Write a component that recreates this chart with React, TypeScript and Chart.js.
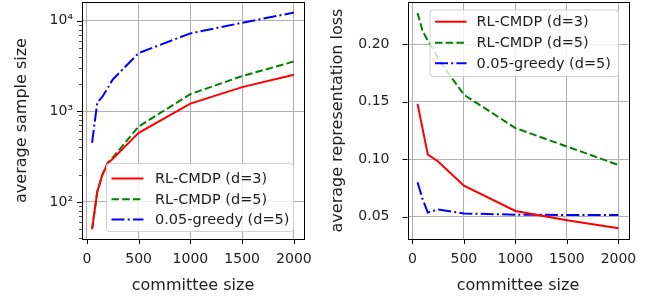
import React, { useEffect, useRef } from "react";
import { Chart, registerables } from "chart.js";

Chart.register(...registerables);

// ---------------- data ----------------
const committeeSizes = [50, 100, 150, 200, 250, 500, 1000, 1500, 2000];
const sampleRL3 = [50, 130, 200, 265, 300, 580, 1216, 1850, 2530];
const sampleRL5 = [50, 130, 200, 270, 310, 680, 1550, 2450, 3550];
const sampleGreedy = [450, 1250, 1450, 1800, 2250, 4400, 7260, 9500, 12300];
const lossRL3 = [0.148, 0.126, 0.104, 0.101, 0.098, 0.077, 0.055, 0.047, 0.04];
const lossRL5 = [0.227, 0.211, 0.203, 0.196, 0.187, 0.156, 0.127, 0.111, 0.095];
const lossGreedy = [0.08, 0.065, 0.0537, 0.055, 0.0563, 0.0529, 0.0518, 0.0516, 0.0515];
const xTicks = [0, 500, 1000, 1500, 2000];
const sampleTicks = [100, 1000, 10000];
const sampleTickLabels = ["10\u00B2", "10\u00B3", "10\u2074"];
const lossTicks = [0.05, 0.1, 0.15, 0.2];
const lossTickLabels = ["0.05", "0.10", "0.15", "0.20"];
const seriesLabels = ["RL-CMDP (d=3)", "RL-CMDP (d=5)", "0.05-greedy (d=5)"];

const FONT = "'DejaVu Sans', sans-serif";
const TEXT = "#1e1e1e";
const TICK_SIZE = 14;
const TITLE_SIZE = 16;
const LEGEND_SIZE = 14.5;
const COLORS = ["#ff0000", "#008000", "#0000ff"];
const DASHES: number[][] = [[], [7.5, 3.2], [13, 3.2, 2, 3.2]];

function pts(ys: number[]) {
  return committeeSizes.map((x, i) => ({ x, y: ys[i] }));
}

type Decor = {
  legend: { x: number; y: number; w: number; h: number; rows: number[]; lx0: number; lx1: number; tx: number };
  minorLog: boolean;
};

function decorPlugin(d: Decor) {
  return {
    id: "decor",
    afterDatasetsDraw(chart: any) {
      const ctx = chart.ctx as CanvasRenderingContext2D;
      const a = chart.chartArea;
      const xs = chart.scales.x;
      const ys = chart.scales.y;
      ctx.save();
      ctx.strokeStyle = "#000";
      ctx.lineWidth = 1;
      ctx.setLineDash([]);
      ctx.beginPath();
      for (const v of xTicks) {
        const px = Math.round(xs.getPixelForValue(v)) + 0.5;
        ctx.moveTo(px, a.bottom);
        ctx.lineTo(px, a.bottom + 5);
      }
      for (const t of ys.ticks) {
        const py = Math.round(ys.getPixelForValue(t.value)) + 0.5;
        ctx.moveTo(a.left - 5, py);
        ctx.lineTo(a.left, py);
      }
      ctx.stroke();
      if (d.minorLog) {
        ctx.lineWidth = 0.7;
        ctx.beginPath();
        for (let e = 1; e <= 4; e++) {
          for (let m = 2; m <= 9; m++) {
            const v = m * Math.pow(10, e);
            if (v < ys.min || v > ys.max) continue;
            const py = Math.round(ys.getPixelForValue(v)) + 0.5;
            ctx.moveTo(a.left - 3, py);
            ctx.lineTo(a.left, py);
          }
        }
        ctx.stroke();
      }
      ctx.lineWidth = 1;
      ctx.strokeStyle = "#000";
      ctx.strokeRect(Math.round(a.left) + 0.5, Math.round(a.top) + 0.5, Math.round(a.right - a.left), Math.round(a.bottom - a.top));
      // legend
      const L = d.legend;
      const r = 3;
      ctx.beginPath();
      ctx.moveTo(L.x + r, L.y);
      ctx.lineTo(L.x + L.w - r, L.y);
      ctx.quadraticCurveTo(L.x + L.w, L.y, L.x + L.w, L.y + r);
      ctx.lineTo(L.x + L.w, L.y + L.h - r);
      ctx.quadraticCurveTo(L.x + L.w, L.y + L.h, L.x + L.w - r, L.y + L.h);
      ctx.lineTo(L.x + r, L.y + L.h);
      ctx.quadraticCurveTo(L.x, L.y + L.h, L.x, L.y + L.h - r);
      ctx.lineTo(L.x, L.y + r);
      ctx.quadraticCurveTo(L.x, L.y, L.x + r, L.y);
      ctx.closePath();
      ctx.fillStyle = "rgba(255,255,255,0.8)";
      ctx.fill();
      ctx.strokeStyle = "#d0d0d0";
      ctx.lineWidth = 1;
      ctx.stroke();
      ctx.font = `${LEGEND_SIZE}px ${FONT}`;
      ctx.textBaseline = "middle";
      ctx.textAlign = "left";
      L.rows.forEach((ry, i) => {
        ctx.strokeStyle = COLORS[i];
        ctx.lineWidth = 2;
        ctx.setLineDash(DASHES[i]);
        ctx.beginPath();
        ctx.moveTo(L.lx0, ry);
        ctx.lineTo(L.lx1, ry);
        ctx.stroke();
        ctx.setLineDash([]);
        ctx.fillStyle = TEXT;
        ctx.fillText(seriesLabels[i], L.tx, ry + 0.5);
      });
      ctx.restore();
    },
  };
}

function datasets(a: number[], b: number[], c: number[]) {
  return [a, b, c].map((ys, i) => ({
    label: seriesLabels[i],
    data: pts(ys),
    borderColor: COLORS[i],
    backgroundColor: COLORS[i],
    borderWidth: 2,
    borderDash: DASHES[i],
    pointRadius: 0,
    fill: false,
    tension: 0,
  }));
}

function zeroPad(s: any) {
  s.paddingTop = 0;
  s.paddingBottom = 0;
  s.paddingLeft = 0;
  s.paddingRight = 0;
}

function xScale() {
  return {
    type: "linear",
    min: -47.5,
    max: 2097.5,
    afterBuildTicks: (s: any) => {
      s.ticks = xTicks.map((v) => ({ value: v }));
    },
    afterFit: (s: any) => {
      s.height = 59;
      zeroPad(s);
    },
    grid: { color: "#b0b0b0", lineWidth: 1, drawTicks: false },
    border: { display: false },
    ticks: {
      padding: 12,
      color: TEXT,
      font: { family: FONT, size: TICK_SIZE },
      maxRotation: 0,
      autoSkip: false,
      callback: (v: any) => String(v),
    },
    title: {
      display: true,
      text: "committee size",
      color: TEXT,
      font: { family: FONT, size: TITLE_SIZE },
      padding: { top: 0, bottom: 3 },
    },
  };
}

function ChartCanvas({ config, left, width }: { config: () => any; left: number; width: number }) {
  const ref = useRef<HTMLCanvasElement | null>(null);
  useEffect(() => {
    const chart = new Chart(ref.current as HTMLCanvasElement, config());
    return () => chart.destroy();
  }, []);
  return (
    <canvas
      ref={ref}
      width={width}
      height={298}
      style={{ position: "absolute", left, top: 0, width, height: 298 }}
    />
  );
}

function leftConfig() {
  return {
    type: "line",
    data: { datasets: datasets(sampleRL3, sampleRL5, sampleGreedy) },
    options: {
      responsive: false,
      animation: false,
      devicePixelRatio: 1,
      layout: { padding: { left: 0, right: 16, top: 2, bottom: 0 } },
      plugins: { legend: { display: false }, tooltip: { enabled: false } },
      scales: {
        x: xScale(),
        y: {
          type: "logarithmic",
          min: 39,
          max: 16100,
          afterBuildTicks: (s: any) => {
            s.ticks = sampleTicks.map((v) => ({ value: v }));
          },
          afterFit: (s: any) => {
            s.width = 82;
            zeroPad(s);
          },
          grid: { color: "#b0b0b0", lineWidth: 1, drawTicks: false },
          border: { display: false },
          ticks: {
            padding: 9,
            color: TEXT,
            font: { family: FONT, size: TICK_SIZE },
            autoSkip: false,
            callback: (v: any) => {
              const i = sampleTicks.indexOf(Number(v));
              return i >= 0 ? sampleTickLabels[i] : "";
            },
          },
          title: {
            display: true,
            text: "average sample size",
            color: TEXT,
            font: { family: FONT, size: TITLE_SIZE },
            padding: { top: 12, bottom: 0 },
          },
        },
      },
    },
    plugins: [
      decorPlugin({
        legend: { x: 106.5, y: 163.5, w: 187, h: 68, rows: [178.5, 199.3, 219.5], lx0: 111.5, lx1: 143.5, tx: 155 },
        minorLog: true,
      }),
    ],
  };
}

function rightConfig() {
  return {
    type: "line",
    data: { datasets: datasets(lossRL3, lossRL5, lossGreedy) },
    options: {
      responsive: false,
      animation: false,
      devicePixelRatio: 1,
      layout: { padding: { left: 0, right: 26.5, top: 2, bottom: 0 } },
      plugins: { legend: { display: false }, tooltip: { enabled: false } },
      scales: {
        x: xScale(),
        y: {
          type: "linear",
          min: 0.0307,
          max: 0.2365,
          afterBuildTicks: (s: any) => {
            s.ticks = lossTicks.map((v) => ({ value: v }));
          },
          afterFit: (s: any) => {
            s.width = 87.5;
            zeroPad(s);
          },
          grid: { color: "#b0b0b0", lineWidth: 1, drawTicks: false },
          border: { display: false },
          ticks: {
            padding: 18,
            color: TEXT,
            font: { family: FONT, size: TICK_SIZE },
            autoSkip: false,
            callback: (v: any) => {
              const i = lossTicks.findIndex((t) => Math.abs(t - Number(v)) < 1e-9);
              return i >= 0 ? lossTickLabels[i] : "";
            },
          },
          title: {
            display: true,
            text: "average representation loss",
            color: TEXT,
            font: { family: FONT, size: TITLE_SIZE },
            padding: { top: 8, bottom: 0 },
          },
        },
      },
    },
    plugins: [
      decorPlugin({
        legend: { x: 110, y: 10, w: 188.5, h: 66.5, rows: [21.7, 42.7, 63.3], lx0: 115, lx1: 146.5, tx: 156.5 },
        minorLog: false,
      }),
    ],
  };
}

export default function App() {
  return (
    <div style={{ position: "fixed", left: 0, top: 0, width: 655, height: 298, background: "#fff" }}>
      <ChartCanvas config={leftConfig} left={0} width={320} />
      <ChartCanvas config={rightConfig} left={320} width={335} />
    </div>
  );
}
